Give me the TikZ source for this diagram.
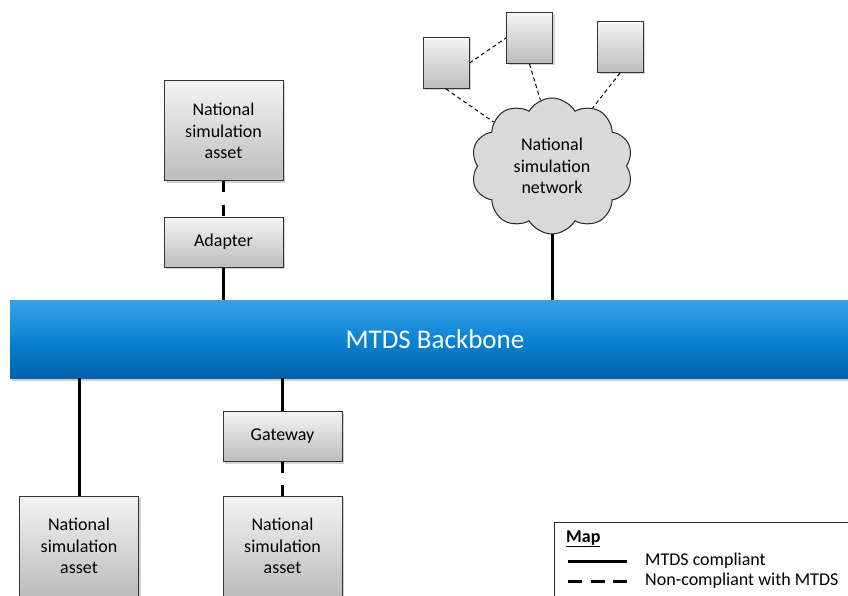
\documentclass[tikz,border=0pt]{standalone}
\usepackage{fontspec}
\setmainfont{Carlito}
\usetikzlibrary{positioning,shapes.symbols,shadows}
\definecolor{boxtop}{HTML}{F4F4F4}
\definecolor{boxbot}{HTML}{BCBCBC}
\definecolor{bustop}{HTML}{3AA2E8}
\definecolor{busmid}{HTML}{0A84D4}
\definecolor{busbot}{HTML}{0062A8}
\definecolor{cloudfill}{HTML}{D9D9D9}

\begin{document}
\begin{tikzpicture}[x=1pt,y=-1pt,font=\fontsize{18}{21.5}\selectfont,
 unit/.style={draw=black!80,line width=1pt,top color=boxtop,bottom color=boxbot,align=center,inner sep=2pt,
   drop shadow={shadow xshift=2pt,shadow yshift=-2pt,opacity=.35}},
 asset/.style={unit,minimum width=119pt,minimum height=100pt},
 joint/.style={unit,minimum width=119pt,minimum height=50pt},
 sat/.style={unit,minimum width=46pt,minimum height=51pt},
 link/.style={line width=3pt},
 nolink/.style={line width=3pt,dash pattern=on 11pt off 12pt},
 netlink/.style={line width=1pt,dash pattern=on 4pt off 3pt}]
\clip (0,0) rectangle (848,596);
% backbone
\node[minimum width=850pt,minimum height=78pt,inner sep=0pt,text=white,font=\fontsize{27}{32}\selectfont,
  top color=bustop,bottom color=busbot,middle color=busmid,
  drop shadow={shadow xshift=2pt,shadow yshift=-3pt,opacity=.4}] (backbone) at (435,339) {MTDS Backbone};
% upper side
\node[asset] (assetA) at (223.5,131) {National\\simulation\\asset};
\node[joint] (adapter) at (223.5,242) {Adapter};
\node[cloud,cloud puffs=10,cloud puff arc=120,aspect=1.2,draw=black!85,line width=1pt,fill=cloudfill,
  minimum width=162pt,minimum height=136pt,inner sep=0pt,align=center] (network) at (552,166) {National\\simulation\\network};
\node[sat] (sat1) at (446,63) {};
\node[sat] (sat2) at (529.5,38) {};
\node[sat] (sat3) at (620,47) {};
% lower side
\node[joint] (gateway) at (282.5,436.5) {Gateway};
\node[asset] (assetB) at (79,546) {National\\simulation\\asset};
\node[asset] (assetC) at (282.5,546) {National\\simulation\\asset};
% connectors
\draw[nolink] (assetA)--(adapter);
\draw[link] (adapter.south)--(adapter.south|-backbone.north);
\draw[link] (network.south)--(network.south|-backbone.north);
\draw[netlink] (sat1.east)--(sat2.west);
\draw[netlink] (sat1.south)--(network.143);
\draw[netlink] (sat2.south)--(network.100);
\draw[netlink] (sat3.south)--(network.55);
\draw[link] (assetB.north|-backbone.south)--(assetB.north);
\draw[link] (gateway.north|-backbone.south)--(gateway.north);
\draw[nolink] (gateway)--(assetC);
% map
\node[draw=black!85,line width=1pt,fill=white,anchor=north west,minimum width=310pt,minimum height=90pt] (map) at (554,522) {};
\node[anchor=west,inner sep=0pt,font=\fontsize{18}{21.5}\selectfont\bfseries] (maptitle) at (566,539) {\underline{Map}};
\coordinate (solidA) at (568,561);
\coordinate (solidB) at (627,561);
\coordinate (dashA) at (568,581);
\coordinate (dashB) at (627,581);
\draw[link] (solidA)--(solidB);
\draw[line width=3pt,dash pattern=on 14pt off 8.5pt] (dashA)--(dashB);
\node[anchor=west,inner sep=0pt] (solidtext) at (645,561) {MTDS compliant};
\node[anchor=west,inner sep=0pt] (dashtext) at (645,581) {Non-compliant with MTDS};
\end{tikzpicture}
\end{document}
